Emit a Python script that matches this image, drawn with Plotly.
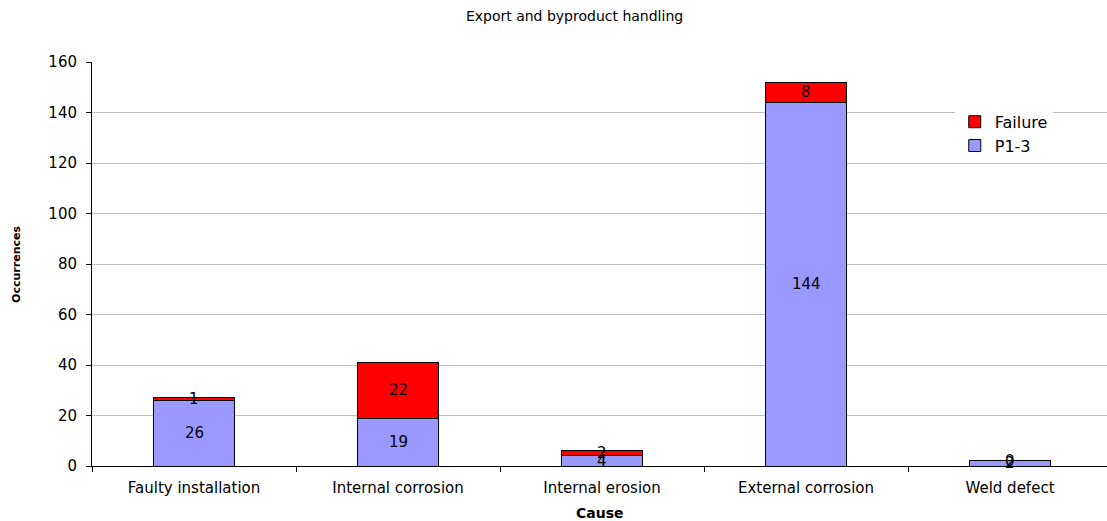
import plotly.graph_objects as go

causes = ["Faulty installation", "Internal corrosion", "Internal erosion",
          "External corrosion", "Weld defect"]
p13 = [26, 19, 4, 144, 2]
failure = [1, 22, 2, 8, 0]
y_ticks = [0, 20, 40, 60, 80, 100, 120, 140, 160]

FONT = "DejaVu Sans, Arial, sans-serif"

fig = go.Figure()
fig.add_trace(go.Bar(x=causes, y=p13, name="P1-3",
                     marker=dict(color="#9999FF", line=dict(color="black", width=1))))
fig.add_trace(go.Bar(x=causes, y=failure, name="Failure",
                     marker=dict(color="#FF0000", line=dict(color="black", width=1))))

# value labels centred in each stacked segment
annotations = []
for c, a, b in zip(causes, p13, failure):
    annotations.append(dict(x=c, y=a / 2, text=str(a), showarrow=False,
                            font=dict(size=15, color="black", family=FONT)))
    annotations.append(dict(x=c, y=a + b / 2, text=str(b), showarrow=False,
                            font=dict(size=15, color="black", family=FONT)))

annotations.append(dict(xref="paper", yref="paper", x=0.5, y=-0.1163, yanchor="middle",
                        xanchor="center", text="<b>Cause</b>", showarrow=False,
                        font=dict(size=14, color="black", family=FONT)))
annotations.append(dict(xref="paper", yref="paper", x=-0.075, y=0.5, textangle=-90,
                        xanchor="center", yanchor="middle",
                        text="<b>Occurrences</b>", showarrow=False,
                        font=dict(size=11, color="black", family=FONT)))

fig.update_layout(
    width=1107, height=521,
    barmode="stack", bargap=0.6,
    plot_bgcolor="white", paper_bgcolor="white",
    margin=dict(l=92, r=0, t=62, b=55),
    title=dict(text="Export and byproduct handling", x=0.519, xref="container",
               y=1 - 16 / 521, yref="container", yanchor="middle", xanchor="center",
               font=dict(size=14, color="black", family=FONT)),
    font=dict(family=FONT, color="black"),
    legend=dict(x=0.85, y=0.894, xref="paper", yref="paper", xanchor="left", yanchor="top",
                traceorder="reversed", bgcolor="white", borderwidth=0,
                font=dict(size=16, color="black", family=FONT),
                itemwidth=30, tracegroupgap=0),
    showlegend=True,
    annotations=annotations,
)
fig.update_xaxes(range=[-0.5, 4.4755], showline=True, linecolor="black", linewidth=1,
                 ticks="outside", tickson="boundaries", ticklen=5, tickcolor="black",
                 ticklabelstandoff=8,
                 showgrid=False, tickfont=dict(size=15, color="black", family=FONT))
fig.update_yaxes(range=[0, 160], tickvals=y_ticks, showline=True, linecolor="black", linewidth=1,
                 ticks="outside", ticklen=5, tickcolor="black", ticklabelstandoff=6,
                 showgrid=True, gridcolor="#c0c0c0", gridwidth=1, zeroline=False,
                 tickfont=dict(size=15, color="black", family=FONT))

fig.write_html("out.html")
